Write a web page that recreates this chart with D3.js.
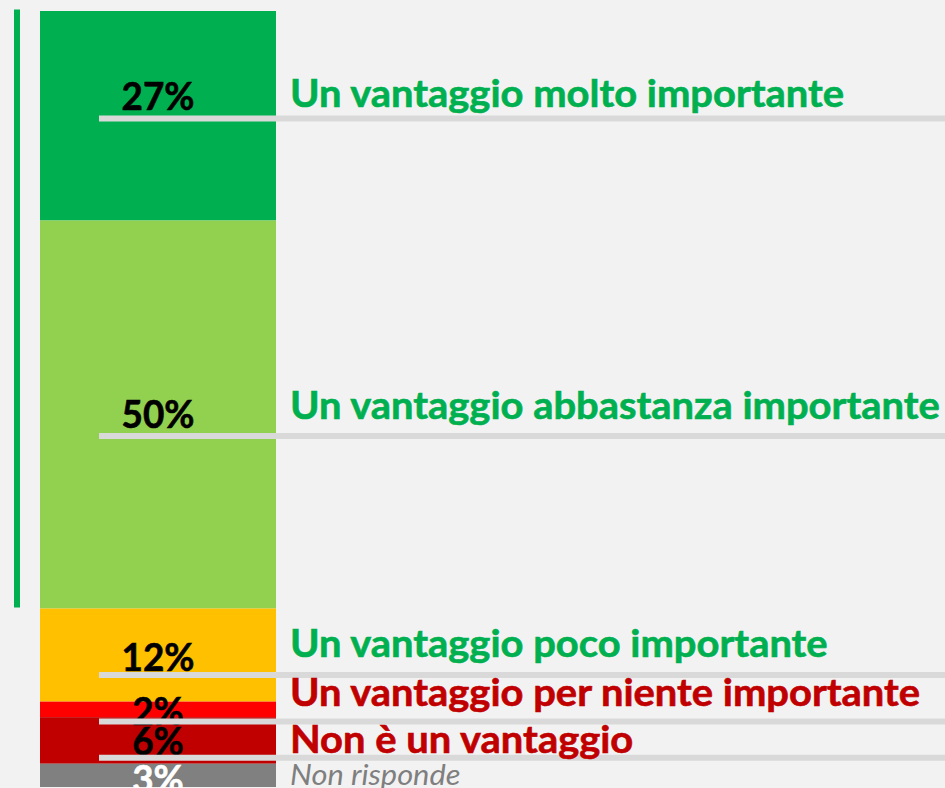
<!DOCTYPE html>
<html>
<head>
<meta charset="utf-8">
<script src="https://cdn.jsdelivr.net/npm/d3@7"></script>
<style>
body { margin: 0; background: #f2f2f2; }
svg { display: block; }
.pct { font-family: Lato, "Open Sans", sans-serif; font-weight: bold; font-size: 38px; text-anchor: middle; }
.nom { font-family: Lato, "Open Sans", sans-serif; font-weight: bold; font-size: 38px; }
.nr { font-weight: normal; font-style: italic; font-size: 28px; }
</style>
</head>
<body>
<div id="chart"></div>
<script>
// Données du graphique
var categories = ["Un vantaggio molto importante", "Un vantaggio abbastanza importante",
    "Un vantaggio poco importante", "Un vantaggio per niente importante",
    "Non è un vantaggio", "Non risponde"];
var values = [27, 50, 12, 2, 6, 3];
var barColors = ["#00b050", "#92d050", "#ffc000", "#ff0000", "#c00000", "#808080"];
var nameColors = ["#00b050", "#00b050", "#00b050", "#c00000", "#c00000", "#7f7f7f"];
var pctColors = ["#000", "#000", "#000", "#000", "#000", "#fff"];

// position des étiquettes (en unités de l'échelle, 0-100)
var lineAt = [13.85, 54.77, 85.57, 91.56, 96.22, null];
var pctAt = [12.76, 53.70, 85.01, 92.01, 95.88, 100.8];
var nameAt = [12.33, 52.62, 83.21, 89.56, 95.62, 99.68];

var width = 945, height = 788;

var svg = d3.select("#chart").append("svg")
    .attr("width", width)
    .attr("height", height);

svg.append("rect").attr("width", width).attr("height", height).attr("fill", "#f2f2f2");

var x = d3.scaleBand().domain(["Totale"]).range([40, 276]).padding(0);
var y = d3.scaleLinear().domain([0, 100]).range([11, 787]);

var ends = d3.cumsum(values);
var starts = ends.map(function (e, i) { return e - values[i]; });

// barre empilée
svg.selectAll("rect.seg").data(values).enter().append("rect")
    .attr("class", "seg")
    .attr("x", x("Totale"))
    .attr("width", x.bandwidth())
    .attr("y", function (d, i) { return y(starts[i]); })
    .attr("height", function (d) { return y(d) - y(0); })
    .attr("fill", function (d, i) { return barColors[i]; });

// trait vert à gauche (les deux réponses positives)
svg.append("line")
    .attr("x1", 17).attr("x2", 17)
    .attr("y1", y(0) - 1.5)
    .attr("y2", y(values[0] + values[1]) - 1)
    .attr("stroke", "#00b050")
    .attr("stroke-width", 6);

// pourcentages
svg.selectAll("text.pct").data(values).enter().append("text")
    .attr("class", "pct")
    .attr("x", x("Totale") + x.bandwidth() / 2)
    .attr("y", function (d, i) { return y(pctAt[i]); })
    .attr("fill", function (d, i) { return pctColors[i]; })
    .attr("stroke", function (d, i) { return pctColors[i]; })
    .attr("stroke-width", 0.6)
    .text(function (d) { return d + "%"; });

// lignes grises
svg.selectAll("line.guide").data(lineAt.filter(function (d) { return d != null; })).enter().append("line")
    .attr("class", "guide")
    .attr("x1", x("Totale") + x.bandwidth() / 4)
    .attr("x2", width)
    .attr("y1", function (d) { return y(d); })
    .attr("y2", function (d) { return y(d); })
    .attr("stroke", "#d9d9d9")
    .attr("stroke-width", 6);

// noms des réponses
svg.selectAll("text.nom").data(categories).enter().append("text")
    .attr("class", function (d, i) { return i == 5 ? "nom nr" : "nom"; })
    .attr("x", 290)
    .attr("y", function (d, i) { return y(nameAt[i]); })
    .attr("fill", function (d, i) { return nameColors[i]; })
    .attr("stroke", function (d, i) { return i == 5 ? "none" : nameColors[i]; })
    .attr("stroke-width", 0.6)
    .text(function (d) { return d; });

// largeur du texte ajustée comme dans l'original
function fit(sel, k) {
    sel.each(function () {
        var len = this.getComputedTextLength();
        d3.select(this).attr("textLength", len * k).attr("lengthAdjust", "spacingAndGlyphs");
    });
}
fit(svg.selectAll("text.pct"), 0.97);
fit(svg.selectAll("text.nom:not(.nr)"), 1.05);
fit(svg.selectAll("text.nr"), 1.1);
</script>
</body>
</html>
